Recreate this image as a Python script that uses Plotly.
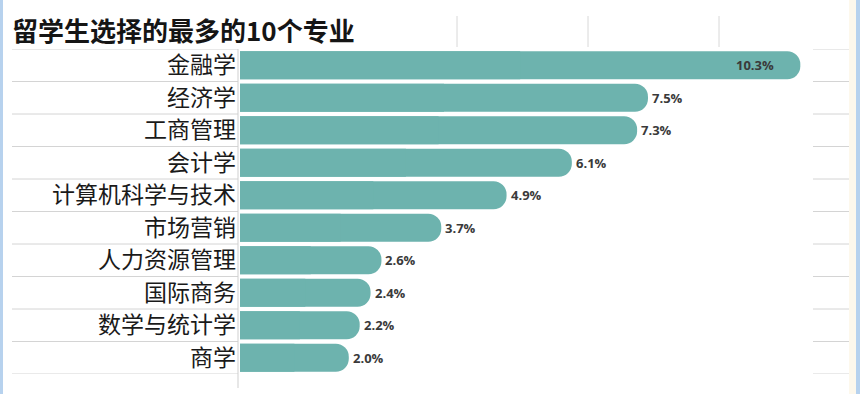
import plotly.graph_objects as go

categories = ["金融学", "经济学", "工商管理", "会计学", "计算机科学与技术",
              "市场营销", "人力资源管理", "国际商务", "数学与统计学", "商学"]
values = [10.3, 7.5, 7.3, 6.1, 4.9, 3.7, 2.6, 2.4, 2.2, 2.0]
value_labels = ["10.3%", "7.5%", "7.3%", "6.1%", "4.9%", "3.7%", "2.6%", "2.4%", "2.2%", "2.0%"]
title_text = "留学生选择的最多的10个专业"

W, H = 860, 394
ML, MR, MT, MB = 240, 45, 49, 20
PW = W - ML - MR
PH = H - MT - MB
XMAX = 10.57
BAR = "#6db3ae"

def px2x(px):
    return (px - ML) / PW

def py2y(py):
    return (H - MB - py) / PH

fig = go.Figure()
fig.add_trace(go.Bar(x=values, y=categories, orientation="h", marker=dict(color=BAR, cornerradius=14, line=dict(width=0)),
                     width=0.86, hoverinfo="skip"))
fig.add_trace(go.Bar(x=[v / 2 for v in values], y=categories, orientation="h", marker=dict(color=BAR, line=dict(width=0)),
                     width=0.86, hoverinfo="skip"))

annotations = []
for i, (c, v, t) in enumerate(zip(categories, values, value_labels)):
    inside = i == 0
    annotations.append(dict(x=v, y=c, xref="x", yref="y", text=t, showarrow=False,
                            xanchor="right" if inside else "left", xshift=-24 if inside else 2,
                            font=dict(family="Open Sans", size=13, color="#3a3a3a", weight="bold")))

shapes = []
n = len(categories)
for i in range(n + 1):
    yv = i - 0.5
    shapes.append(dict(type="line", xref="paper", yref="y", x0=px2x(12), x1=px2x(238), y0=yv, y1=yv,
                       line=dict(color="#d4d4d4", width=1)))
    shapes.append(dict(type="line", xref="paper", yref="y", x0=px2x(813), x1=px2x(849), y0=yv, y1=yv,
                       line=dict(color="#d4d4d4", width=1)))
for px in [457, 588, 719]:
    shapes.append(dict(type="line", xref="paper", yref="paper", x0=px2x(px), x1=px2x(px), y0=py2y(16), y1=py2y(47),
                       line=dict(color="#d8d8d8", width=1)))
shapes.append(dict(type="line", xref="paper", yref="paper", x0=px2x(238), x1=px2x(238), y0=py2y(49), y1=py2y(388),
                   line=dict(color="#cfcfcf", width=1)))
shapes.append(dict(type="rect", xref="paper", yref="paper", x0=px2x(849), x1=px2x(856), y0=py2y(394), y1=py2y(0),
                   fillcolor="#fdf8ec", line=dict(width=0)))
shapes.append(dict(type="rect", xref="paper", yref="paper", x0=px2x(0), x1=px2x(3), y0=py2y(394), y1=py2y(0),
                   fillcolor="#b7d2ee", line=dict(width=0)))
shapes.append(dict(type="rect", xref="paper", yref="paper", x0=px2x(856), x1=px2x(860), y0=py2y(394), y1=py2y(0),
                   fillcolor="#b7d2ee", line=dict(width=0)))

fig.update_layout(
    width=W, height=H,
    margin=dict(l=ML, r=MR, t=MT, b=MB),
    barmode="overlay",
    showlegend=False,
    paper_bgcolor="white", plot_bgcolor="white",
    title=dict(text=title_text, x=12 / W, xanchor="left", y=1 - 32 / H, yanchor="middle",
               font=dict(family="Noto Sans CJK SC", size=26, color="#151515", weight="bold")),
    xaxis=dict(range=[0, XMAX], showgrid=False, zeroline=False, showticklabels=False, showline=False),
    yaxis=dict(type="category", categoryorder="array", categoryarray=categories, range=[n - 0.5, -0.5],
               showgrid=False, zeroline=False, showline=False, ticks="", ticklabelstandoff=3,
               tickfont=dict(family="Noto Sans CJK SC", size=23, color="#1a1a1a")),
    annotations=annotations,
    shapes=shapes,
)

fig.write_html("out.html", config={"displayModeBar": False},
               post_script="document.body.style.margin='0';document.body.style.overflow='hidden';")
